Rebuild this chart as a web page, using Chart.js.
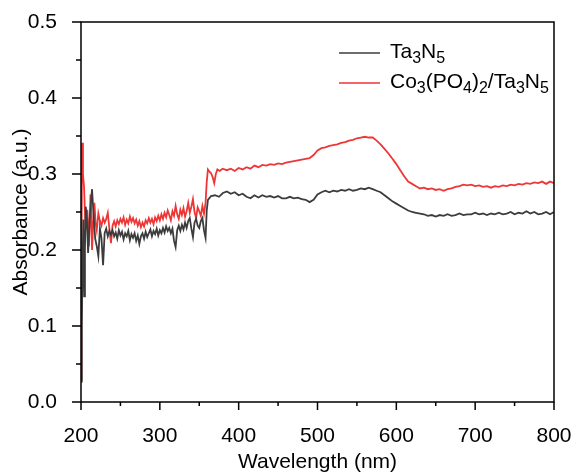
<!DOCTYPE html>
<html>
<head>
<meta charset="utf-8">
<script src="https://cdn.jsdelivr.net/npm/chart.js@4/dist/chart.umd.min.js"></script>
<style>
  body { margin: 0; background: #fff; }
  #absChart { display: block; }
</style>
</head>
<body>
<canvas id="absChart" width="574" height="475"></canvas>
<script>
// series names, "_" marks a subscript digit
const seriesNames = ['Ta_3N_5', 'Co_3(PO_4)_2/Ta_3N_5'];

const xTicks = [200, 300, 400, 500, 600, 700, 800];
const yTicks = [0.0, 0.1, 0.2, 0.3, 0.4, 0.5];

// Ta3N5
const ta3n5Wl = [
  200, 201, 202, 203, 204, 205, 206, 207.5, 209, 211, 212.5,
  214, 216, 218, 220, 222, 224, 226, 228, 230, 232, 234, 236, 238, 240,
  242, 244, 246, 248, 250, 252, 254, 256, 258, 260, 262, 264, 266,
  268, 270, 272, 274, 276, 278, 280, 282, 284, 286, 288, 290, 292,
  294, 296, 298, 300, 302, 304, 306, 308, 310, 312, 314, 316, 318,
  320, 322, 324, 326, 328, 330, 332, 334, 336, 338, 340, 342, 344,
  346, 348, 350, 352, 354, 356, 358, 359.5, 361,
  365, 370, 375, 380, 385, 390, 395, 400, 405, 410,
  415, 420, 425, 430, 435, 440, 445, 450, 455, 460,
  465, 470, 475, 480, 485, 490, 495, 500, 505, 510,
  515, 520, 525, 530, 535, 540, 545, 550, 555, 560,
  565, 570, 575, 580, 585, 590, 595, 600, 605, 610,
  615, 620, 625, 630, 635, 640, 645, 650, 655, 660,
  665, 670, 675, 680, 685, 690, 695, 700, 705, 710,
  715, 720, 725, 730, 735, 740, 745, 750, 755, 760,
  765, 770, 775, 780, 785, 790, 795, 800];
const ta3n5Abs = [
  0.027, 0.10, 0.187, 0.24, 0.139, 0.20, 0.257, 0.24, 0.196, 0.24, 0.262,
  0.280, 0.245, 0.215, 0.205, 0.192, 0.228, 0.215, 0.180, 0.222, 0.228, 0.218, 0.225, 0.220, 0.226,
  0.218, 0.223, 0.215, 0.226, 0.219, 0.224, 0.214, 0.222, 0.218, 0.225, 0.213, 0.221, 0.216,
  0.222, 0.212, 0.219, 0.208, 0.218, 0.222, 0.215, 0.224, 0.217, 0.222, 0.227, 0.218, 0.225,
  0.221, 0.228, 0.219, 0.226, 0.222, 0.229, 0.223, 0.231, 0.225, 0.229, 0.222, 0.228, 0.212,
  0.204, 0.226, 0.232, 0.225, 0.233, 0.227, 0.236, 0.229, 0.238, 0.242, 0.228, 0.217, 0.236,
  0.241, 0.232, 0.229, 0.238, 0.242, 0.226, 0.216, 0.252, 0.266,
  0.271, 0.272, 0.270, 0.275, 0.277, 0.274, 0.276, 0.272, 0.274, 0.270,
  0.268, 0.272, 0.269, 0.272, 0.270, 0.271, 0.269, 0.271, 0.268, 0.268,
  0.270, 0.268, 0.269, 0.267, 0.266, 0.263, 0.266, 0.273, 0.276, 0.278,
  0.276, 0.278, 0.277, 0.279, 0.278, 0.280, 0.278, 0.279, 0.281, 0.280,
  0.282, 0.280, 0.278, 0.276, 0.272, 0.268, 0.264, 0.261, 0.258, 0.255,
  0.252, 0.250, 0.249, 0.248, 0.247, 0.245, 0.246, 0.244, 0.246, 0.245,
  0.247, 0.245, 0.246, 0.248, 0.246, 0.247, 0.247, 0.249, 0.247, 0.248,
  0.246, 0.248, 0.247, 0.249, 0.247, 0.248, 0.250, 0.247, 0.249, 0.248,
  0.251, 0.248, 0.250, 0.247, 0.248, 0.250, 0.247, 0.250];

// Co3(PO4)2/Ta3N5
const coWl = [
  200, 200.7, 201.3, 202.5, 203.8, 205, 206, 207, 208, 209, 210, 211,
  212, 213, 214, 215.5, 217, 218.5, 220, 222, 224, 226, 228, 230, 232,
  234, 236, 238, 240, 242, 244, 246, 248, 250, 252, 254, 256, 258,
  260, 262, 264, 266, 268, 270, 272, 274, 276, 278, 280, 282, 284,
  286, 288, 290, 292, 294, 296, 298, 300, 302, 304, 306, 308, 310,
  312, 314, 316, 318, 320, 322, 324, 326, 328, 330, 332, 334, 336,
  338, 340, 342, 344, 346, 348, 350, 352, 354, 356, 358, 359.5,
  361, 363, 365, 367, 369, 371, 373, 376, 379.6,
  385, 390, 395, 400, 405, 410, 415, 420, 425, 430,
  435, 440, 445, 450, 455, 460, 465, 470, 475, 480,
  485, 490, 495, 500, 505, 510, 515, 520, 525, 530,
  535, 540, 545, 550, 555, 560, 565, 570, 575, 580,
  585, 590, 595, 600, 605, 610, 615, 620, 625, 630,
  635, 640, 645, 650, 655, 660, 665, 670, 675, 680,
  685, 690, 695, 700, 705, 710, 715, 720, 725, 730,
  735, 740, 745, 750, 755, 760, 765, 770, 775, 780,
  785, 790, 795, 800];
const coAbs = [
  0.03, 0.20, 0.341, 0.30, 0.284, 0.25, 0.227, 0.24, 0.253, 0.235, 0.205, 0.23,
  0.273, 0.25, 0.200, 0.235, 0.262, 0.236, 0.226, 0.248, 0.238, 0.232, 0.242, 0.236, 0.241,
  0.249, 0.228, 0.209, 0.232, 0.238, 0.231, 0.239, 0.234, 0.241, 0.236, 0.243, 0.233, 0.240,
  0.235, 0.244, 0.237, 0.242, 0.235, 0.240, 0.232, 0.238, 0.230, 0.236, 0.231, 0.239, 0.235,
  0.242, 0.236, 0.241, 0.234, 0.243, 0.238, 0.245, 0.239, 0.247, 0.241, 0.249, 0.243, 0.252,
  0.246, 0.239, 0.251, 0.245, 0.258, 0.247, 0.241, 0.253, 0.246, 0.255, 0.244, 0.251, 0.262,
  0.249, 0.257, 0.267, 0.250, 0.242, 0.256, 0.251, 0.245, 0.258, 0.248, 0.262, 0.290,
  0.306, 0.303, 0.301, 0.296, 0.288, 0.300, 0.306, 0.304, 0.307,
  0.305, 0.307, 0.304, 0.308, 0.306, 0.309, 0.307, 0.311, 0.309, 0.312,
  0.311, 0.313, 0.312, 0.314, 0.313, 0.315, 0.316, 0.317, 0.318, 0.319,
  0.320, 0.321, 0.325, 0.331, 0.334, 0.335, 0.337, 0.338, 0.339, 0.341,
  0.342, 0.344, 0.345, 0.347, 0.348, 0.349, 0.348, 0.348, 0.344, 0.339,
  0.333, 0.327, 0.320, 0.313, 0.305, 0.297, 0.290, 0.287, 0.284, 0.281,
  0.282, 0.280, 0.281, 0.279, 0.280, 0.278, 0.280, 0.281, 0.283, 0.284,
  0.286, 0.285, 0.286, 0.284, 0.285, 0.283, 0.284, 0.282, 0.284, 0.283,
  0.285, 0.284, 0.286, 0.285, 0.287, 0.286, 0.288, 0.287, 0.289, 0.288,
  0.290, 0.287, 0.290, 0.288];

const fontFamily = '"Liberation Sans", Arial, sans-serif';

const app = {
  toPoints: function (xs, ys) {
    return xs.map(function (x, i) { return { x: x, y: ys[i] }; });
  },

  // draws the box round the plot and the major / minor ticks
  frameTicks: {
    id: 'frameTicks',
    afterDraw: function (chart) {
      const ctx = chart.ctx;
      const area = chart.chartArea;
      const xScale = chart.scales.x;
      const yScale = chart.scales.y;

      ctx.save();
      ctx.strokeStyle = '#000';
      ctx.lineWidth = 1.5;
      ctx.strokeRect(area.left, area.top, area.right - area.left, area.bottom - area.top);
      ctx.beginPath();
      for (let i = 0; i < xTicks.length; i++) {
        const px = xScale.getPixelForValue(xTicks[i]);
        ctx.moveTo(px, area.bottom);
        ctx.lineTo(px, area.bottom + 8);
        if (i < xTicks.length - 1) {
          const mid = xScale.getPixelForValue((xTicks[i] + xTicks[i + 1]) / 2);
          ctx.moveTo(mid, area.bottom);
          ctx.lineTo(mid, area.bottom + 4);
        }
      }
      for (let i = 0; i < yTicks.length; i++) {
        const py = yScale.getPixelForValue(yTicks[i]);
        ctx.moveTo(area.left, py);
        ctx.lineTo(area.left - 9, py);
        if (i < yTicks.length - 1) {
          const mid = yScale.getPixelForValue((yTicks[i] + yTicks[i + 1]) / 2);
          ctx.moveTo(area.left, mid);
          ctx.lineTo(area.left - 5, mid);
        }
      }
      ctx.stroke();
      ctx.restore();
    }
  },

  // legend with real subscripts
  subLegend: {
    id: 'subLegend',
    afterDraw: function (chart) {
      const ctx = chart.ctx;
      const rows = [53, 83];
      ctx.save();
      chart.data.datasets.forEach(function (ds, i) {
        const y = rows[i];
        ctx.strokeStyle = ds.borderColor;
        ctx.lineWidth = 1.6;
        ctx.beginPath();
        ctx.moveTo(339, y);
        ctx.lineTo(380, y);
        ctx.stroke();

        let x = 390;
        const base = y + 5;
        const parts = seriesNames[i].split(/(_\d)/);
        ctx.fillStyle = '#000';
        ctx.textBaseline = 'alphabetic';
        parts.forEach(function (p) {
          if (!p) return;
          if (p[0] === '_') {
            ctx.font = '16px ' + fontFamily;
            ctx.fillText(p.slice(1), x, base + 5);
            x += ctx.measureText(p.slice(1)).width;
          } else {
            ctx.font = '21px ' + fontFamily;
            ctx.fillText(p, x, base);
            x += ctx.measureText(p).width;
          }
        });
      });
      ctx.restore();
    }
  },

  renderChart: function () {
    const thisApp = this;
    const ctx = document.getElementById('absChart').getContext('2d');

    // eslint-disable-next-line no-undef
    const chart = new Chart(ctx, {
      type: 'line',
      data: {
        datasets: [{
          label: 'Ta3N5',
          data: thisApp.toPoints(ta3n5Wl, ta3n5Abs),
          borderColor: '#3c3c3c',
          borderWidth: 1.8,
          pointRadius: 0,
        },
        {
          label: 'Co3(PO4)2/Ta3N5',
          data: thisApp.toPoints(coWl, coAbs),
          borderColor: '#ee3636',
          borderWidth: 1.8,
          pointRadius: 0,
        }]
      },
      options: {
        responsive: false,
        animation: false,
        layout: { padding: { top: 22, right: 20, left: 0, bottom: 0 } },
        plugins: {
          legend: { display: false },
          tooltip: { enabled: false },
        },
        scales: {
          x: {
            type: 'linear',
            min: 200,
            max: 800,
            grid: { display: false },
            border: { display: false },
            afterBuildTicks: function (scale) {
              scale.ticks = xTicks.map(function (v) { return { value: v }; });
            },
            afterFit: function (scale) {
              scale.height = 73;
              scale.paddingLeft = 0;
              scale.paddingRight = 0;
            },
            ticks: {
              padding: 14,
              color: '#000',
              maxRotation: 0,
              font: { family: fontFamily, size: 21 },
            },
            title: {
              display: true,
              text: 'Wavelength (nm)',
              color: '#000',
              padding: { top: 0, bottom: 0 },
              font: { family: fontFamily, size: 21 },
            }
          },
          y: {
            min: 0,
            max: 0.5,
            grid: { display: false },
            border: { display: false },
            afterBuildTicks: function (scale) {
              scale.ticks = yTicks.map(function (v) { return { value: v }; });
            },
            afterFit: function (scale) {
              scale.width = 81;
              scale.paddingTop = 0;
              scale.paddingBottom = 0;
            },
            ticks: {
              padding: 16,
              color: '#000',
              font: { family: fontFamily, size: 21 },
              callback: function (v) { return v.toFixed(1); },
            },
            title: {
              display: true,
              text: 'Absorbance (a.u.)',
              color: '#000',
              padding: { top: 9, bottom: 0 },
              font: { family: fontFamily, size: 21 },
            }
          }
        }
      },
      plugins: [thisApp.frameTicks, thisApp.subLegend]
    });

    return chart;
  },

  init: function () {
    this.renderChart();
  }
};

app.init();
</script>
</body>
</html>
